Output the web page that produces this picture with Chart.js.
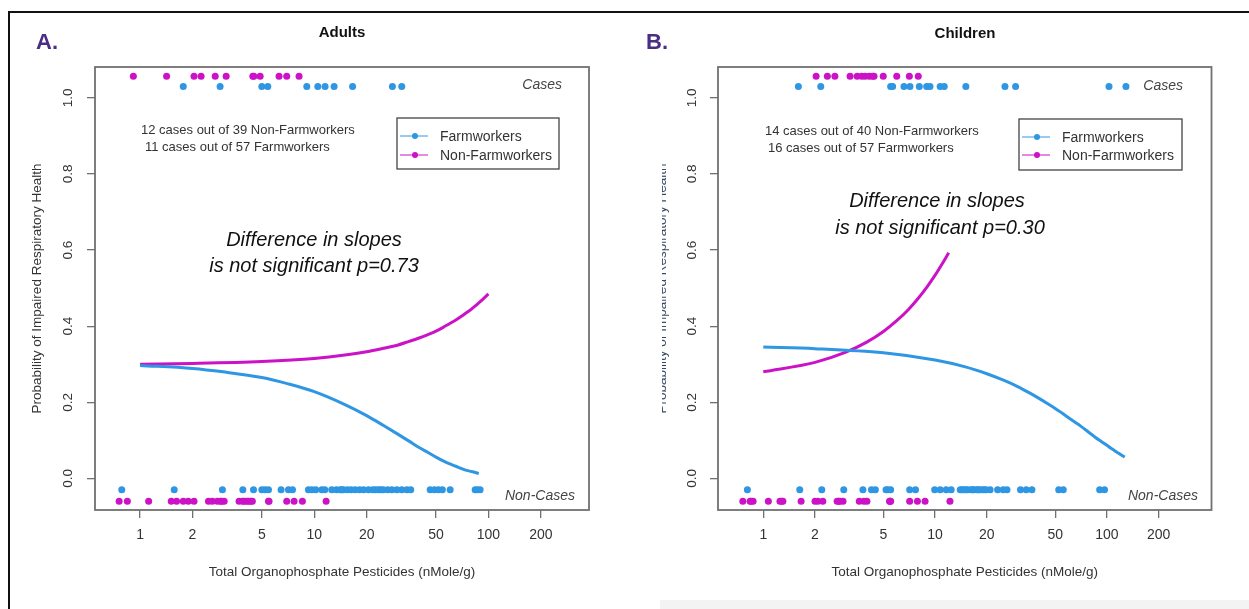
<!DOCTYPE html>
<html>
<head>
<meta charset="utf-8">
<title>Organophosphate pesticides and impaired respiratory health</title>
<script src="https://cdn.jsdelivr.net/npm/chart.js@4.4.1/dist/chart.umd.min.js"></script>
<style>
  body { margin: 0; background: #fff; }
  #wrap { position: relative; width: 1249px; height: 609px; overflow: hidden; background: #fff; }
  #chartA { position: absolute; left: 0; top: 0; }
  #chartB { position: absolute; left: 624px; top: 0; }
  .frameTop { position: absolute; left: 8px; top: 11px; width: 1241px; height: 2px; background: #111; }
  .frameLeft { position: absolute; left: 8px; top: 11px; width: 2px; height: 598px; background: #111; }
  .fade { position: absolute; left: 660px; top: 600px; width: 589px; height: 9px; background: #f3f3f3; }
</style>
</head>
<body>
<div id="wrap">
  <canvas id="chartA" width="624" height="609"></canvas>
  <canvas id="chartB" width="625" height="609"></canvas>
  <div class="frameTop"></div>
  <div class="frameLeft"></div>
  <div class="fade"></div>
</div>
<script>
//#region data
const seriesNames = ['Farmworkers', 'Non-Farmworkers'];
const xTicks = [1, 2, 5, 10, 20, 50, 100, 200];
const yTicks = [0, 0.2, 0.4, 0.6, 0.8, 1.0];
// heights of the rug points: [farmworkers, non-farmworkers]
const caseY = [1.03, 1.057];
const nonCaseY = [-0.03, -0.06];
const yRange = [-0.083, 1.081];
const adultXRange = [0.551, 378];
const childXRange = [0.545, 406];

// Adults
const adultFarmCases = [1.77, 2.88, 5.00, 5.41, 9.06, 10.48, 11.54, 13.0, 16.6, 28.1, 31.8];
const adultNonFarmCases = [0.915, 1.42, 2.04, 2.24, 2.70, 3.12, 4.44, 4.5, 4.89, 6.28, 6.95, 8.18];
const adultFarmNonCases = [0.785, 1.57, 2.97, 3.89, 4.48, 5.0, 5.22, 5.46, 6.45, 7.11, 7.5, 9.26, 9.69, 10.2,
  11.05, 11.5, 12.6, 13.4, 14.1, 14.4, 14.7, 15.5, 16.3, 17.2, 18.2, 19.2, 20.5, 21.7, 22.5, 23.4, 24.1, 24.9,
  26.4, 27.9, 29.8, 31.8, 34.0, 35.8, 46.3, 49.0, 51.6, 54.4, 60.3, 83.9, 86.5, 89.6];
const adultNonFarmNonCases = [0.758, 0.845, 1.12, 1.51, 1.62, 1.77, 1.89, 2.04, 2.47, 2.6, 2.78, 2.9, 2.94,
  3.04, 3.7, 3.89, 3.95, 4.1, 4.2, 4.32, 4.41, 5.46, 5.5, 6.95, 7.66, 8.55, 11.7];
const adultFarmCurveX = [1, 2, 3, 5, 7, 10, 15, 20, 25, 30, 35, 40, 45, 50, 55, 60, 65, 70, 75, 80, 88];
const adultFarmCurveY = [0.297, 0.289, 0.280, 0.265, 0.249, 0.228, 0.194, 0.165, 0.139, 0.117, 0.098, 0.081,
  0.068, 0.056, 0.046, 0.038, 0.032, 0.026, 0.021, 0.018, 0.013];
const adultNonFarmCurveX = [1, 2, 5, 10, 15, 20, 25, 30, 35, 40, 45, 50, 55, 60, 65, 70, 75, 80, 85, 90, 95, 100];
const adultNonFarmCurveY = [0.300, 0.302, 0.307, 0.315, 0.324, 0.333, 0.342, 0.350, 0.360, 0.369, 0.378, 0.387,
  0.397, 0.407, 0.416, 0.426, 0.436, 0.445, 0.455, 0.465, 0.475, 0.485];

// Children
const childFarmCases = [1.60, 2.16, 5.51, 5.66, 6.59, 7.14, 8.09, 8.93, 9.34, 10.7, 11.3, 15.1, 25.5, 29.4, 102.8, 129];
const childNonFarmCases = [2.03, 2.36, 2.61, 3.20, 3.52, 3.74, 3.91, 4.14, 4.33, 4.41, 4.99, 5.98, 7.08, 7.98];
const childFarmNonCases = [0.808, 1.63, 2.19, 2.94, 3.80, 4.26, 4.49, 5.18, 5.3, 5.51, 7.11, 7.69, 9.94, 10.7,
  11.6, 12.4, 14.0, 14.3, 14.7, 15.1, 15.5, 16.2, 16.5, 16.8, 17.4, 17.8, 18.1, 18.8, 19.3, 19.8, 20.9, 23.1,
  24.9, 26.2, 31.4, 33.9, 36.6, 52.4, 55.7, 90.7, 96.8];
const childNonFarmNonCases = [0.76, 0.838, 0.85, 0.872, 1.07, 1.25, 1.28, 1.3, 1.66, 2.0, 2.08, 2.22, 2.69,
  2.75, 2.79, 2.91, 3.62, 3.85, 4.01, 5.43, 5.47, 5.51, 7.11, 7.89, 8.74, 12.2];
const childFarmCurveX = [1, 2, 5, 10, 15, 20, 25, 30, 35, 40, 45, 50, 55, 60, 65, 70, 75, 80, 85, 90, 95, 100,
  105, 110, 115, 120, 127];
const childFarmCurveY = [0.345, 0.341, 0.330, 0.311, 0.293, 0.275, 0.258, 0.242, 0.226, 0.211, 0.197, 0.184,
  0.171, 0.159, 0.148, 0.138, 0.128, 0.118, 0.109, 0.101, 0.094, 0.087, 0.080, 0.074, 0.068, 0.063, 0.056];
const childNonFarmCurveX = [1, 2, 3, 4, 5, 6, 7, 8, 9, 10, 11, 12];
const childNonFarmCurveY = [0.280, 0.305, 0.331, 0.358, 0.386, 0.415, 0.444, 0.474, 0.504, 0.534, 0.564, 0.593];
//#endregion

const BLUE = '#2e96e2';
const PINK = '#cc12c6';
const FONT = '"Liberation Sans", Arial, Helvetica, sans-serif';
const TXT = '#333';

//#region plugin: box, rotated y labels, legend, annotations
const panelDecor = {
    id: 'panelDecor',
    beforeDraw(chart, args, opts) {
        // panel B's y title is cut on its left side in the original
        if (opts.clipLeft == null) return;
        const c = chart.ctx;
        c.save();
        c.beginPath();
        c.rect(opts.clipLeft, 0, chart.width, chart.height);
        c.clip();
    },
    beforeDatasetsDraw(chart, args, opts) {
        if (opts.clipLeft != null) chart.ctx.restore();
    },
    afterDraw(chart, args, opts) {
        const c = chart.ctx;
        const a = chart.chartArea;
        c.save();
        c.strokeStyle = '#707070';
        c.lineWidth = 1.8;
        c.strokeRect(a.left, a.top, a.right - a.left, a.bottom - a.top);

        // y labels parallel to the axis, like R
        const ys = chart.scales.y;
        c.fillStyle = TXT;
        c.font = '13.5px ' + FONT;
        c.textAlign = 'center';
        c.textBaseline = 'middle';
        ys.ticks.forEach(t => {
            c.save();
            c.translate(a.left - opts.yLabelGap, ys.getPixelForValue(t.value));
            c.rotate(-Math.PI / 2);
            c.fillText(t.value.toFixed(1), 0, 0);
            c.restore();
        });

        // legend box
        const lg = opts.legend;
        const lx = a.left + lg.dx;
        c.strokeStyle = '#444';
        c.lineWidth = 1.3;
        c.strokeRect(lx, lg.top, lg.w, lg.h);
        c.font = '14px ' + FONT;
        c.textAlign = 'left';
        lg.rows.forEach((ry, i) => {
            const col = chart.data.datasets[i].borderColor;
            c.strokeStyle = col;
            c.lineWidth = 1;
            c.beginPath();
            c.moveTo(lx + 3, ry);
            c.lineTo(lx + 31, ry);
            c.stroke();
            c.fillStyle = col;
            c.beginPath();
            c.arc(lx + 18, ry, 3, 0, Math.PI * 2);
            c.fill();
            c.fillStyle = TXT;
            c.fillText(chart.data.datasets[i].label, lx + 43, ry + 1);
        });

        opts.texts.forEach(t => {
            c.font = t.font;
            c.fillStyle = t.color || TXT;
            c.textAlign = t.align || 'left';
            c.fillText(t.text, t.x, t.y);
        });
        c.restore();
    }
};
//#endregion

function toPoints(xs, ys) {
    return xs.map((x, i) => ({ x: x, y: ys[i] }));
}

function curve(label, xs, ys, color) {
    return {
        type: 'line', label: label, data: toPoints(xs, ys),
        borderColor: color, backgroundColor: color, borderWidth: 3,
        pointRadius: 0, fill: false, cubicInterpolationMode: 'monotone'
    };
}

function rug(xs, level, color) {
    return {
        type: 'scatter', data: xs.map(x => ({ x: x, y: level })),
        backgroundColor: color, borderColor: color, borderWidth: 0, pointRadius: 3.5
    };
}

function makePanel(canvasId, d) {
    const ctx = document.getElementById(canvasId).getContext('2d');
    return new Chart(ctx, {
        type: 'scatter',
        data: {
            datasets: [
                curve(seriesNames[0], d.farmCurveX, d.farmCurveY, BLUE),
                curve(seriesNames[1], d.nonFarmCurveX, d.nonFarmCurveY, PINK),
                rug(d.farmCases, caseY[0], BLUE),
                rug(d.nonFarmCases, caseY[1], PINK),
                rug(d.farmNonCases, nonCaseY[0], BLUE),
                rug(d.nonFarmNonCases, nonCaseY[1], PINK)
            ]
        },
        options: {
            responsive: false,
            animation: false,
            events: [],
            layout: { padding: { left: 0, top: 67, right: d.padRight, bottom: 0 } },
            plugins: {
                legend: { display: false },
                tooltip: { enabled: false },
                panelDecor: d.decor
            },
            scales: {
                x: {
                    type: 'logarithmic',
                    min: d.xRange[0],
                    max: d.xRange[1],
                    afterBuildTicks: s => { s.ticks = xTicks.map(v => ({ value: v })); },
                    afterFit: s => { s.height = 99; },
                    border: { display: false },
                    grid: { drawOnChartArea: false, drawTicks: true, tickLength: 8, color: '#707070', lineWidth: 1.3 },
                    ticks: {
                        padding: 9, color: TXT, maxRotation: 0, autoSkip: false,
                        font: { family: FONT, size: 14 },
                        callback: v => String(v)
                    },
                    title: {
                        display: true, text: 'Total Organophosphate Pesticides (nMole/g)', color: TXT,
                        font: { family: FONT, size: 13.5 }, padding: { top: 0, bottom: 29 }
                    }
                },
                y: {
                    min: yRange[0],
                    max: yRange[1],
                    afterBuildTicks: s => { s.ticks = yTicks.map(v => ({ value: v })); },
                    afterFit: s => { s.width = d.axisWidth; },
                    border: { display: false },
                    grid: { drawOnChartArea: false, drawTicks: true, tickLength: 8, color: '#707070', lineWidth: 1.3 },
                    ticks: { display: false },
                    title: {
                        display: true, text: 'Probability of Impaired Respiratory Health', color: d.yTitleColor,
                        font: { family: FONT, size: 13.5 }, padding: { top: d.yTitlePad, bottom: 0 }
                    }
                }
            }
        },
        plugins: [panelDecor]
    });
}

makePanel('chartA', {
    farmCases: adultFarmCases, nonFarmCases: adultNonFarmCases,
    farmNonCases: adultFarmNonCases, nonFarmNonCases: adultNonFarmNonCases,
    farmCurveX: adultFarmCurveX, farmCurveY: adultFarmCurveY,
    nonFarmCurveX: adultNonFarmCurveX, nonFarmCurveY: adultNonFarmCurveY,
    xRange: adultXRange, axisWidth: 95, padRight: 35, yTitlePad: 29, yTitleColor: TXT,
    decor: {
        yLabelGap: 27,
        legend: { dx: 302, top: 118, w: 162, h: 51, rows: [136, 155] },
        texts: [
            { text: 'A.', x: 36, y: 43, font: 'bold 22px ' + FONT, color: '#4b2d83' },
            { text: 'Adults', x: 342, y: 33, font: 'bold 15px ' + FONT, align: 'center', color: '#111' },
            { text: 'Cases', x: 562, y: 85, font: 'italic 14px ' + FONT, align: 'right', color: '#444' },
            { text: 'Non-Cases', x: 575, y: 496, font: 'italic 14px ' + FONT, align: 'right', color: '#444' },
            { text: '12 cases out of 39 Non-Farmworkers', x: 141, y: 130, font: '13px ' + FONT },
            { text: '11 cases out of 57 Farmworkers', x: 145, y: 147, font: '13px ' + FONT },
            { text: 'Difference in slopes', x: 314, y: 240, font: 'italic 20px ' + FONT, align: 'center', color: '#111' },
            { text: 'is not significant p=0.73', x: 314, y: 266, font: 'italic 20px ' + FONT, align: 'center', color: '#111' }
        ]
    }
});

makePanel('chartB', {
    farmCases: childFarmCases, nonFarmCases: childNonFarmCases,
    farmNonCases: childFarmNonCases, nonFarmNonCases: childNonFarmNonCases,
    farmCurveX: childFarmCurveX, farmCurveY: childFarmCurveY,
    nonFarmCurveX: childNonFarmCurveX, nonFarmCurveY: childNonFarmCurveY,
    xRange: childXRange, axisWidth: 94, padRight: 37.5, yTitlePad: 30, yTitleColor: '#3a4a66',
    decor: {
        clipLeft: 38,
        yLabelGap: 26,
        legend: { dx: 301, top: 119, w: 163, h: 51, rows: [137, 155] },
        texts: [
            { text: 'B.', x: 22, y: 43, font: 'bold 22px ' + FONT, color: '#4b2d83' },
            { text: 'Children', x: 341, y: 34, font: 'bold 15px ' + FONT, align: 'center', color: '#111' },
            { text: 'Cases', x: 559, y: 86, font: 'italic 14px ' + FONT, align: 'right', color: '#444' },
            { text: 'Non-Cases', x: 574, y: 496, font: 'italic 14px ' + FONT, align: 'right', color: '#444' },
            { text: '14 cases out of 40 Non-Farmworkers', x: 141, y: 131, font: '13px ' + FONT },
            { text: '16 cases out of 57 Farmworkers', x: 144, y: 148, font: '13px ' + FONT },
            { text: 'Difference in slopes', x: 313, y: 201, font: 'italic 20px ' + FONT, align: 'center', color: '#111' },
            { text: 'is not significant p=0.30', x: 316, y: 228, font: 'italic 20px ' + FONT, align: 'center', color: '#111' }
        ]
    }
});
</script>
</body>
</html>
